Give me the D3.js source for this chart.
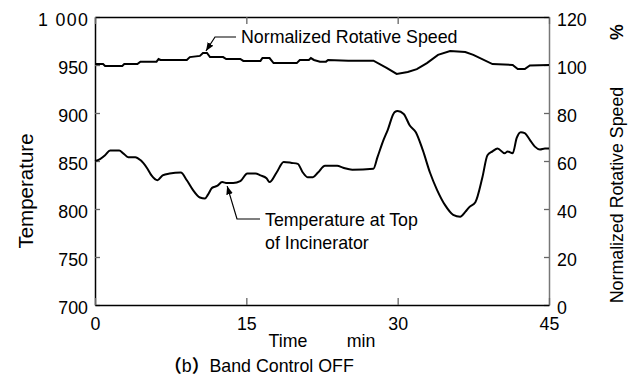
<!DOCTYPE html>
<html>
<head>
<meta charset="utf-8">
<script src="https://cdn.jsdelivr.net/npm/d3@7"></script>
<style>
  body { margin: 0; background: #fff; }
  svg text { font-family: "Liberation Sans", Arial, sans-serif; fill: #000; }
</style>
</head>
<body>
<div id="main"></div>
<script>
var ctx = {
    w: 634,
    h: 376,
    left: 95,
    right: 549,
    top: 17,
    bottom: 305,
    font: 17.8,
};

// temperature at top of incinerator (left axis)
var tempTime = [0, 0.5, 1.0, 1.5, 2.4, 2.8, 3.3, 4.0, 4.5, 5.2, 5.6, 6.2, 6.7, 7.4, 8.5, 9.1, 9.7, 10.4, 10.9,
    11.2, 11.6, 12.1, 12.6, 13.1, 13.7, 14.4, 15.1, 15.9, 16.4, 17.0, 17.3, 18.0, 18.7, 19.5, 20.1, 20.6,
    21.1, 21.6, 22.1, 22.8, 24.0, 24.6, 25.5, 27.6, 28.0, 28.6, 29.0, 29.7, 30.0, 30.6, 31.2, 31.8, 32.5,
    33.2, 33.9, 34.7, 35.5, 36.2, 36.7, 37.1, 37.7, 38.4, 38.9, 39.4, 39.9, 40.6, 40.9, 41.4, 41.8, 42.2,
    42.6, 43.1, 43.6, 44.1, 44.6, 45];
var tempValues = [850, 852, 856, 861, 861, 858, 854, 854, 851, 842, 835, 830, 835, 837, 838, 830, 820, 812, 811,
    815, 822, 824, 828, 827, 827, 829, 837, 837, 835, 832, 828, 838, 849, 848, 847, 838,
    833, 833, 838, 845, 845, 843, 841, 842, 854, 872, 882, 901, 902, 899, 887, 880, 861,
    838, 820, 804, 794, 792, 797, 802, 807, 833, 856, 860, 863, 858, 860, 858, 874, 880,
    879, 872, 865, 862, 863, 863];

// normalized rotative speed, % (right axis)
var speedTime = [0, 0.8, 1.0, 2.7, 2.9, 4.2, 4.5, 6.1, 6.3, 6.5, 9.1, 9.4, 10.4, 10.7, 11.1, 11.4, 12.7, 13.0,
    14.4, 14.7, 16.4, 16.6, 17.3, 17.7, 20.0, 20.3, 21.2, 21.4, 21.7, 22.3, 22.9, 23.1, 25.1, 27.6,
    28.9, 29.9, 31.0, 31.9, 32.9, 34.0, 35.2, 36.7, 37.5, 39.4, 41.4, 41.9, 42.6, 43.1, 45];
var speedValues = [100.4, 100.4, 99.6, 99.6, 100.4, 100.4, 101.4, 101.4, 102.5, 102.1, 102.1, 103.3, 103.8, 105, 105, 103.3, 103.3, 102.5,
    102.5, 101.7, 101.7, 102.9, 102.9, 100.8, 100.8, 102.1, 102.1, 102.9, 102.1, 101.4, 101.4, 102.1, 101.8, 101.8,
    98.8, 96.3, 97.1, 98.3, 100.8, 104.2, 105.8, 105.4, 104.2, 100.4, 100, 98.3, 98.3, 99.8, 100];

var xTicks = [0, 15, 30, 45];
var tempTicks = [700, 750, 800, 850, 900, 950, 1000];
var speedTicks = [0, 20, 40, 60, 80, 100, 120];

var svg = d3.select("#main").append("svg")
    .attr("width", ctx.w)
    .attr("height", ctx.h);

var x = d3.scaleLinear().domain([0, 45]).range([ctx.left, ctx.right]);
var yT = d3.scaleLinear().domain([700, 1000]).range([ctx.bottom, ctx.top]);
var yS = d3.scaleLinear().domain([0, 120]).range([ctx.bottom, ctx.top]);

function styleAxis(g, color) {
    g.select(".domain").attr("stroke", color).attr("stroke-width", 1.5);
    g.selectAll(".tick line").attr("stroke", "#666").attr("stroke-width", 1.3);
    g.selectAll(".tick text").style("font-size", ctx.font + "px").attr("fill", "#000");
}

// left axis
var gl = svg.append("g").attr("transform", "translate(" + ctx.left + ",0)")
    .call(d3.axisLeft(yT).tickValues(tempTicks).tickSizeInner(-5).tickSizeOuter(0).tickPadding(7)
        .tickFormat(function(d){ return d == 1000 ? "1 000" : d; }));
styleAxis(gl, "#000");
gl.selectAll(".tick text").attr("dy", "0.5em")
    .filter(function(d){ return d == 1000; })
    .attr("textLength", 50).attr("lengthAdjust", "spacing");

// right axis
var gr = svg.append("g").attr("transform", "translate(" + ctx.right + ",0)")
    .call(d3.axisRight(yS).tickValues(speedTicks).tickSizeInner(-5).tickSizeOuter(0).tickPadding(8));
styleAxis(gr, "#777");
gr.selectAll(".tick text").attr("dy", "0.5em");

// bottom axis
var gb = svg.append("g").attr("transform", "translate(0," + ctx.bottom + ")")
    .call(d3.axisBottom(x).tickValues(xTicks).tickSizeInner(-7).tickSizeOuter(0).tickPadding(12));
styleAxis(gb, "#000");

// top axis
var gt = svg.append("g").attr("transform", "translate(0," + ctx.top + ")")
    .call(d3.axisTop(x).tickValues(xTicks).tickSizeInner(-7).tickSizeOuter(0).tickFormat(""));
styleAxis(gt, "#000");

// lines
var tempLine = d3.line()
    .x(function(d, i){ return x(tempTime[i]); })
    .y(function(d){ return yT(d); })
    .curve(d3.curveMonotoneX);
svg.append("path")
    .attr("d", tempLine(tempValues))
    .attr("fill", "none").attr("stroke", "#000").attr("stroke-width", 2);

var speedLine = d3.line()
    .x(function(d, i){ return x(speedTime[i]); })
    .y(function(d){ return yS(d); });
svg.append("path")
    .attr("d", speedLine(speedValues))
    .attr("fill", "none").attr("stroke", "#000").attr("stroke-width", 2);

// arrows
svg.append("defs").append("marker")
    .attr("id", "arr").attr("viewBox", "0 0 10 10").attr("refX", 10).attr("refY", 5)
    .attr("markerWidth", 7).attr("markerHeight", 7).attr("orient", "auto")
    .append("path").attr("d", "M0,1L10,5L0,9Z").attr("fill", "#000");

var sPeak = [x(10.9), yS(105)];
svg.append("path")
    .attr("d", "M236," + 37 + "L215,37L" + (sPeak[0] + 1) + "," + (sPeak[1] - 2))
    .attr("fill", "none").attr("stroke", "#000").attr("stroke-width", 1.2)
    .attr("marker-end", "url(#arr)");
svg.append("text").attr("x", 241).attr("y", 43).style("font-size", ctx.font + "px")
    .text("Normalized Rotative Speed");

var tPt = [x(13.1), yT(827)];
svg.append("path")
    .attr("d", "M260,219L237,219L" + tPt[0] + "," + (tPt[1] + 3))
    .attr("fill", "none").attr("stroke", "#000").attr("stroke-width", 1.2)
    .attr("marker-end", "url(#arr)");
svg.append("text").attr("x", 265).attr("y", 226).style("font-size", ctx.font + "px")
    .text("Temperature at Top");
svg.append("text").attr("x", 265).attr("y", 249).style("font-size", ctx.font + "px")
    .text("of Incinerator");

// axis titles
svg.append("text").attr("transform", "translate(33,191) rotate(-90)")
    .attr("text-anchor", "middle").style("font-size", "20.5px").text("Temperature");
svg.append("text").attr("transform", "translate(623,195) rotate(-90)")
    .attr("text-anchor", "middle").style("font-size", ctx.font + "px").text("Normalized Rotative Speed");
svg.append("text").attr("transform", "translate(623,32) rotate(-90)")
    .attr("text-anchor", "middle").style("font-size", ctx.font + "px").style("font-weight", "bold").text("%");

svg.append("text").attr("x", 288).attr("y", 347).attr("text-anchor", "middle")
    .style("font-size", ctx.font + "px").text("Time");
svg.append("text").attr("x", 361).attr("y", 347).attr("text-anchor", "middle")
    .style("font-size", ctx.font + "px").text("min");

var cap = svg.append("text").attr("x", 164).attr("y", 372).style("font-size", ctx.font + "px");
cap.append("tspan").style("font-family", "'Noto Sans CJK SC'").style("font-weight", "bold").text("（");
cap.append("tspan").text("b");
cap.append("tspan").style("font-family", "'Noto Sans CJK SC'").style("font-weight", "bold").text("）");
cap.append("tspan").text("Band Control OFF");
</script>
</body>
</html>
